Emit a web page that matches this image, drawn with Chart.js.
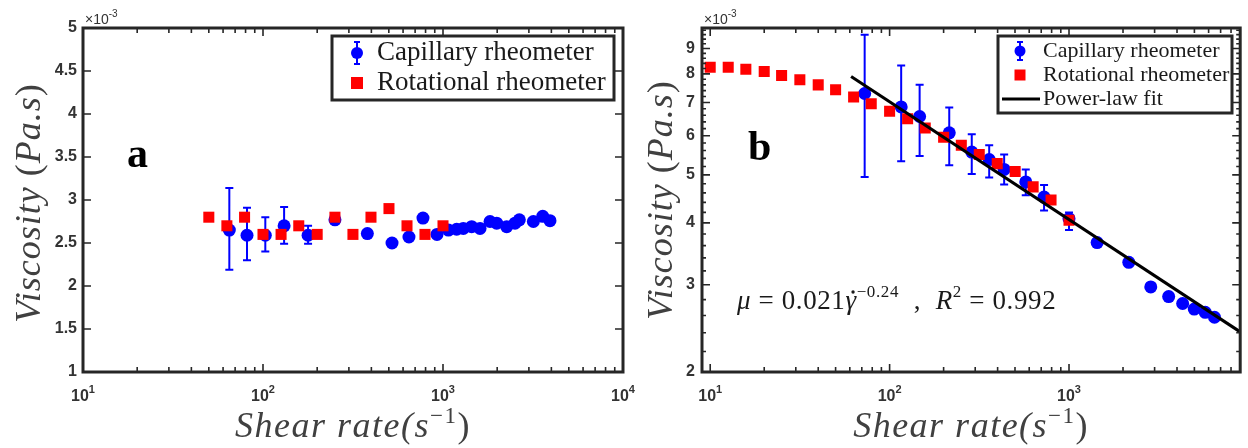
<!DOCTYPE html>
<html lang="en">
<head>
<meta charset="UTF-8" />
<title>Viscosity vs shear rate</title>
<style>
  html, body { margin: 0; padding: 0; background: #fff; }
  #wrap { position: relative; width: 1248px; height: 448px; overflow: hidden; }
  canvas { position: absolute; top: 0; }
  #chartA { left: 0; }
  #chartB { left: 624px; }
</style>
</head>
<body>
<div id="wrap">
  <canvas id="chartA" width="640" height="448"></canvas>
  <canvas id="chartB" width="624" height="448"></canvas>
</div>
<script src="https://cdn.jsdelivr.net/npm/chart.js"></script>
<script>
  const BLUE = "#0000ff";
  const RED = "#ff0000";
  const AXIS = "#262626";

  // ---- panel a (viscosity in units of 1e-3 Pa.s) ----
  const capShearA = [65, 81.5, 103, 131, 178, 251, 380, 521, 647, 774, 926, 1072, 1191, 1297, 1443, 1606, 1825, 1987, 2258, 2512, 2655, 3177, 3581, 3930];
  const capViscA = [2.65, 2.59, 2.59, 2.7, 2.59, 2.77, 2.61, 2.5, 2.57, 2.79, 2.6, 2.65, 2.66, 2.67, 2.69, 2.67, 2.75, 2.73, 2.69, 2.73, 2.77, 2.75, 2.81, 2.76];
  const capErrHiA = [3.14, 2.91, 2.8, 2.92, 2.7, null, null, null, null, null, null, null, null, null, null, null, null, null, null, null, null, null, null, null];
  const capErrLoA = [2.19, 2.3, 2.4, 2.49, 2.49, null, null, null, null, null, null, null, null, null, null, null, null, null, null, null, null, null, null, null];
  const rotShearA = [50, 63, 79, 100, 126, 158, 200, 251, 316, 398, 501, 631, 794, 1000];
  const rotViscA = [2.8, 2.7, 2.8, 2.6, 2.6, 2.7, 2.6, 2.8, 2.6, 2.8, 2.9, 2.7, 2.6, 2.7];

  // ---- panel b ----
  const capShearB = [72.6, 116, 147, 215, 287, 359, 435, 574, 726, 1000, 1435, 2154, 2856, 3594, 4300, 4990, 5745, 6470];
  const capViscB = [7.3, 6.86, 6.56, 6.08, 5.56, 5.37, 5.13, 4.84, 4.51, 4.08, 3.65, 3.33, 2.97, 2.84, 2.75, 2.68, 2.64, 2.58];
  const capErrHiB = [9.59, 8.32, 7.6, 6.84, 6.04, 5.74, 5.5, 5.13, 4.77, 4.2, null, null, null, null, null, null, null, null];
  const capErrLoB = [4.95, 5.33, 5.46, 5.23, 5.02, 4.94, 4.78, 4.55, 4.24, 3.87, null, null, null, null, null, null, null, null];
  const rotShearB = [10, 12.6, 15.8, 20, 25, 31.6, 40, 50, 63, 79, 100, 126, 158, 200, 251, 316, 398, 501, 631, 794, 1000];
  const rotViscB = [8.25, 8.25, 8.17, 8.09, 7.94, 7.78, 7.6, 7.43, 7.18, 6.96, 6.72, 6.49, 6.22, 5.96, 5.74, 5.5, 5.27, 5.08, 4.73, 4.45, 4.05];
  const fitShearB = [61, 9000];
  const fitViscB = [7.9, 2.41];

  // ---- tick labels ----
  const xDecades = [10, 100, 1000, 10000];
  const yTicksA = [1, 1.5, 2, 2.5, 3, 3.5, 4, 4.5, 5];
  const yTicksB = [2, 3, 4, 5, 6, 7, 8, 9];

  const toPoints = (xs, ys) => xs.map((x, i) => ({ x: x, y: ys[i] }));

  function logTicks(min, max) {
    const out = [];
    for (let e = 0; e <= 4; e++) {
      for (let k = 1; k < 10; k++) {
        const v = k * 10 ** e;
        if (v >= min && v <= max) out.push(v);
      }
    }
    return out;
  }

  const yMinorB = [];
  for (let i = 10; i < 50; i++) if (i % 5 !== 0) yMinorB.push(i / 5);

  // draws text pieces left to right; rise = superscript lift, dot = accent above
  function drawRuns(ctx, runs, x, y, align, spacing) {
    ctx.letterSpacing = (spacing || 0) + "px";
    let w = 0;
    runs.forEach((r) => {
      ctx.font = r.font;
      w += ctx.measureText(r.text).width;
    });
    let cx = align === "center" ? x - w / 2 : x;
    runs.forEach((r) => {
      ctx.font = r.font;
      const tw = ctx.measureText(r.text).width;
      ctx.fillText(r.text, cx, y - (r.rise || 0));
      if (r.dot) {
        ctx.beginPath();
        ctx.arc(cx + tw / 2 + 2, y - r.dot, 1.7, 0, Math.PI * 2);
        ctx.fill();
      }
      cx += tw;
    });
    ctx.letterSpacing = "0px";
  }

  const SERIF = '"Liberation Serif", "DejaVu Serif", serif';
  const SANS = '"Liberation Sans", Arial, sans-serif';

  const framePlugin = {
    id: "frame",
    afterDatasetDraw(chart, args) {
      const ds = chart.data.datasets[args.index];
      if (!ds.errHi) return;
      const { ctx, scales } = chart;
      ctx.save();
      ctx.strokeStyle = BLUE;
      ctx.lineWidth = 2;
      ctx.beginPath();
      ds.data.forEach((p, i) => {
        if (ds.errHi[i] == null) return;
        const px = scales.x.getPixelForValue(p.x);
        const yh = scales.y.getPixelForValue(ds.errHi[i]);
        const yl = scales.y.getPixelForValue(ds.errLo[i]);
        ctx.moveTo(px, yh); ctx.lineTo(px, yl);
        ctx.moveTo(px - 4, yh); ctx.lineTo(px + 4, yh);
        ctx.moveTo(px - 4, yl); ctx.lineTo(px + 4, yl);
      });
      ctx.stroke();
      ctx.restore();
    },
    afterDraw(chart, args, o) {
      const { ctx, chartArea: ca, scales } = chart;
      const x = scales.x, y = scales.y;
      ctx.save();

      // inward ticks on all four sides
      ctx.strokeStyle = AXIS;
      ctx.lineWidth = 1.6;
      ctx.beginPath();
      o.xTicks.forEach((v) => {
        const px = x.getPixelForValue(v);
        if (px < ca.left + 1 || px > ca.right - 1) return;
        const len = xDecades.includes(v) ? 8 : 5;
        ctx.moveTo(px, ca.bottom); ctx.lineTo(px, ca.bottom - len);
        ctx.moveTo(px, ca.top); ctx.lineTo(px, ca.top + len);
      });
      const yTick = (v, len) => {
        const py = y.getPixelForValue(v);
        if (py < ca.top + 1 || py > ca.bottom - 1) return;
        ctx.moveTo(ca.left, py); ctx.lineTo(ca.left + len, py);
        ctx.moveTo(ca.right, py); ctx.lineTo(ca.right - len, py);
      };
      o.yMajor.forEach((v) => yTick(v, 8));
      o.yMinor.forEach((v) => yTick(v, 4));
      ctx.stroke();

      // box
      ctx.lineWidth = 3;
      ctx.strokeRect(ca.left, ca.top, ca.right - ca.left, ca.bottom - ca.top);

      // x tick labels 10^n
      ctx.fillStyle = "#333";
      ctx.textBaseline = "alphabetic";
      ctx.textAlign = "left";
      xDecades.forEach((v) => {
        const px = x.getPixelForValue(v);
        if (px < ca.left - 2 || px > ca.right + 2) return;
        drawRuns(ctx, [
          { text: "10", font: "bold 16px " + SANS },
          { text: String(Math.round(Math.log10(v))), font: "bold 11px " + SANS, rise: 8 },
        ], px, 401, "center");
      });

      // x10^-3 multiplier
      drawRuns(ctx, [
        { text: "\u00d710", font: "14px " + SANS },
        { text: "-3", font: "10px " + SANS, rise: 7 },
      ], ca.left + 2, 24, "left");

      // axis titles
      ctx.fillStyle = "#404040";
      const tfont = "italic 36px " + SERIF;
      const rfont = "36px " + SERIF;
      drawRuns(ctx, [
        { text: "Shear rate(s", font: tfont },
        { text: "\u22121", font: "23px " + SERIF, rise: 14 },
        { text: ")", font: rfont },
      ], (ca.left + ca.right) / 2, 437, "center", 1.5);
      ctx.save();
      ctx.translate(o.yTitleX, o.yTitleY);
      ctx.rotate(-Math.PI / 2);
      drawRuns(ctx, [
        { text: "Viscosity ", font: tfont },
        { text: "(", font: rfont },
        { text: "Pa.s", font: tfont },
        { text: ")", font: rfont },
      ], 0, 0, "center", 1);
      ctx.restore();

      // legend
      const L = o.legend;
      ctx.fillStyle = "#fff";
      ctx.fillRect(L.left, L.top, L.right - L.left, L.bottom - L.top);
      ctx.strokeStyle = AXIS;
      ctx.lineWidth = 3;
      ctx.strokeRect(L.left, L.top, L.right - L.left, L.bottom - L.top);
      chart.data.datasets.forEach((ds, i) => {
        const ry = L.rows[i];
        const mx = L.markerX;
        if (ds.errHi) {
          ctx.strokeStyle = BLUE;
          ctx.lineWidth = 2;
          ctx.beginPath();
          ctx.moveTo(mx, ry - L.bar); ctx.lineTo(mx, ry + L.bar);
          ctx.moveTo(mx - 3, ry - L.bar); ctx.lineTo(mx + 3, ry - L.bar);
          ctx.moveTo(mx - 3, ry + L.bar); ctx.lineTo(mx + 3, ry + L.bar);
          ctx.stroke();
          ctx.fillStyle = BLUE;
          ctx.beginPath();
          ctx.arc(mx, ry, L.dot, 0, Math.PI * 2);
          ctx.fill();
        } else if (ds.pointStyle === "rect") {
          ctx.fillStyle = RED;
          ctx.fillRect(mx - L.sq, ry - L.sq, 2 * L.sq, 2 * L.sq);
        } else {
          ctx.strokeStyle = "#000";
          ctx.lineWidth = 3;
          ctx.beginPath();
          ctx.moveTo(L.lineFrom, ry); ctx.lineTo(L.textX - 3, ry);
          ctx.stroke();
        }
        ctx.fillStyle = "#1a1a1a";
        ctx.font = L.font;
        ctx.textBaseline = "middle";
        ctx.fillText(ds.label, L.textX, ry);
      });
      ctx.textBaseline = "alphabetic";

      // panel letter
      ctx.fillStyle = "#000";
      ctx.font = "bold 42px " + SERIF;
      ctx.fillText(o.letter.text, o.letter.x, o.letter.y);

      // fit equation
      if (o.equation) {
        const e = o.equation;
        ctx.fillStyle = "#1a1a1a";
        const it = "italic 27px " + SERIF, up = "27px " + SERIF, sm = "17px " + SERIF;
        drawRuns(ctx, [
          { text: "\u03bc", font: it },
          { text: " = 0.021", font: up },
          { text: "\u03b3", font: it, dot: 17 },
          { text: "\u22120.24", font: sm, rise: 12 },
          { text: "  ,  ", font: up },
          { text: "R", font: it },
          { text: "2", font: sm, rise: 12 },
          { text: " = 0.992", font: up },
        ], e.x, e.y, "left", 0.6);
      }
      ctx.restore();
    },
  };

  function buildOptions(cfg) {
    return {
      responsive: false,
      animation: false,
      events: [],
      layout: { padding: { top: 28, right: cfg.padRight, left: 0, bottom: 0 } },
      scales: {
        x: {
          type: "logarithmic",
          min: cfg.xMin,
          max: cfg.xMax,
          grid: { display: false },
          border: { display: false },
          ticks: { display: false },
          afterFit: (s) => { s.height = 76; },
        },
        y: {
          type: cfg.yType,
          min: cfg.yMin,
          max: cfg.yMax,
          grid: { display: false, drawTicks: false },
          border: { display: false },
          ticks: {
            color: "#333",
            font: { family: "Liberation Sans", weight: "bold", size: 16 },
            padding: cfg.tickPad,
            callback: (v) => String(v),
          },
          afterBuildTicks: (s) => { s.ticks = cfg.yTicks.map((v) => ({ value: v })); },
          afterFit: (s) => { s.width = cfg.yWidth; },
        },
      },
      plugins: {
        legend: { display: false },
        tooltip: { enabled: false },
        frame: cfg.frame,
      },
    };
  }

  new Chart(document.getElementById("chartA"), {
    type: "scatter",
    plugins: [framePlugin],
    data: {
      datasets: [
        { label: "Capillary rheometer", data: toPoints(capShearA, capViscA), errHi: capErrHiA, errLo: capErrLoA,
          pointStyle: "circle", pointRadius: 6.5, backgroundColor: BLUE, borderWidth: 0, order: 2 },
        { label: "Rotational rheometer", data: toPoints(rotShearA, rotViscA),
          pointStyle: "rect", pointRadius: 7.8, backgroundColor: RED, borderWidth: 0, order: 1 },
      ],
    },
    options: buildOptions({
      xMin: 10, xMax: 10000, yType: "linear", yMin: 1, yMax: 5, yTicks: yTicksA,
      yWidth: 83, padRight: 17, tickPad: 6,
      frame: {
        xTicks: logTicks(10, 10000), yMajor: yTicksA, yMinor: [],
        yTitleX: 40, yTitleY: 203,
        legend: { left: 332, top: 36, right: 614, bottom: 100, rows: [53, 83], markerX: 357, textX: 377,
          font: "27px " + SERIF, bar: 11, dot: 6, sq: 6, lineFrom: 340 },
        letter: { text: "a", x: 127, y: 167 },
        equation: null,
      },
    }),
  });

  new Chart(document.getElementById("chartB"), {
    type: "scatter",
    plugins: [framePlugin],
    data: {
      datasets: [
        { label: "Capillary rheometer", data: toPoints(capShearB, capViscB), errHi: capErrHiB, errLo: capErrLoB,
          pointStyle: "circle", pointRadius: 6.5, backgroundColor: BLUE, borderWidth: 0, order: 2 },
        { label: "Rotational rheometer", data: toPoints(rotShearB, rotViscB),
          pointStyle: "rect", pointRadius: 7.8, backgroundColor: RED, borderWidth: 0, order: 1 },
        { label: "Power-law fit", type: "line", data: toPoints(fitShearB, fitViscB),
          borderColor: "#000", borderWidth: 3, pointRadius: 0, fill: false, order: 0 },
      ],
    },
    options: buildOptions({
      xMin: 9, xMax: 9000, yType: "logarithmic", yMin: 2, yMax: 9.9, yTicks: yTicksB,
      yWidth: 78, padRight: 6, tickPad: 7,
      frame: {
        xTicks: logTicks(9, 9000), yMajor: yTicksB, yMinor: yMinorB,
        yTitleX: 48, yTitleY: 200,
        legend: { left: 374, top: 36, right: 608, bottom: 113, rows: [51, 75, 99], markerX: 396, textX: 419,
          font: "22px " + SERIF, bar: 9, dot: 5.5, sq: 5.5, lineFrom: 378 },
        letter: { text: "b", x: 124, y: 160 },
        equation: { x: 113, y: 309 },
      },
    }),
  });
</script>
</body>
</html>
